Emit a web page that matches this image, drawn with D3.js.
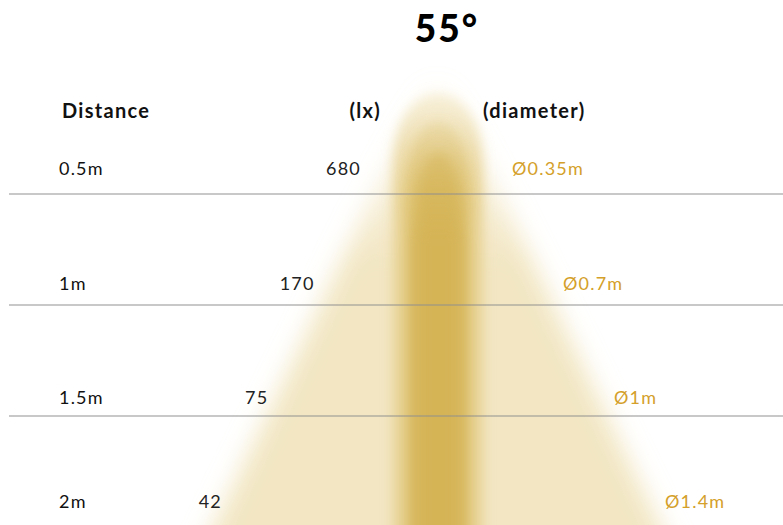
<!DOCTYPE html>
<html>
<head>
<meta charset="utf-8">
<script src="https://cdn.jsdelivr.net/npm/d3@7"></script>
<style>
  html, body { margin: 0; padding: 0; background: #fff; }
  svg { display: block; font-family: Lato, "Open Sans", sans-serif; }
</style>
</head>
<body>
<svg id="chart" width="783" height="525"></svg>
<script>
// ---- data ----
const beamAngle = 55;
const distances = ["0.5m", "1m", "1.5m", "2m"];
const distanceValues = [0.5, 1, 1.5, 2];
const lux = [680, 170, 75, 42];
const diameters = [0.35, 0.7, 1, 1.4];
const headers = ["Distance", "(lx)", "(diameter)"];

const W = 783, H = 525;
const svg = d3.select("#chart");
const cx = 437;          // beam centre
const apexY = 85;

// scales
const y = d3.scaleOrdinal().domain(distances).range([175, 290, 404, 508]);
const lineY = d3.scaleLinear().domain([0.5, 1.5]).range([194, 416]);
const luxOffset = d3.scaleLinear().domain([0.5, 2]).range([76, 215]);
const diaOffset = d3.scaleLinear().domain([0.5, 2]).range([75, 228]);
const coneHalf = d3.scaleLinear().domain([apexY, H]).range([0, 222]);

const defs = svg.append("defs");
[["blurOuter", 12], ["blurMid", 6], ["blurCore", 6]].forEach(([id, s]) => {
  defs.append("filter").attr("id", id)
    .attr("x", "-50%").attr("y", "-50%").attr("width", "200%").attr("height", "200%")
    .append("feGaussianBlur").attr("stdDeviation", s);
});
function vGrad(id, color, y0, y1, o0) {
  const g = defs.append("linearGradient").attr("id", id)
    .attr("gradientUnits", "userSpaceOnUse")
    .attr("x1", 0).attr("x2", 0).attr("y1", y0).attr("y2", y1);
  g.append("stop").attr("offset", 0).attr("stop-color", color).attr("stop-opacity", o0);
  g.append("stop").attr("offset", 1).attr("stop-color", color).attr("stop-opacity", 1);
}
vGrad("gOuter", "#f2e6c3", 110, 260, 0.15);
vGrad("gMid", "#e8d394", 85, 200, 0.25);
vGrad("gCore", "#d5b456", 110, 240, 0.2);

// ---- beam ----
const beam = svg.append("g");
const yTop = apexY + 30, yBot = H + 40;
const outerPath = d3.path();
outerPath.moveTo(cx - coneHalf(yBot), yBot);
outerPath.lineTo(cx - coneHalf(yTop) - 10, yTop);
outerPath.quadraticCurveTo(cx, apexY - 25, cx + coneHalf(yTop) + 10, yTop);
outerPath.lineTo(cx + coneHalf(yBot), yBot);
outerPath.closePath();
beam.append("path").attr("d", outerPath.toString())
  .attr("fill", "url(#gOuter)").attr("filter", "url(#blurOuter)");

function bullet(x0, x1, top, cap) {
  const p = d3.path();
  p.moveTo(x0, H + 30);
  p.lineTo(x0, top + cap);
  p.bezierCurveTo(x0, top - cap * 0.2, x1, top - cap * 0.2, x1, top + cap);
  p.lineTo(x1, H + 30);
  p.closePath();
  return p.toString();
}
beam.append("path").attr("d", bullet(393, 483, apexY, 80))
  .attr("fill", "url(#gMid)").attr("filter", "url(#blurMid)");
beam.append("path").attr("d", bullet(407, 469, apexY + 30, 70))
  .attr("fill", "url(#gCore)").attr("filter", "url(#blurCore)").attr("opacity", 0.8);
beam.append("path").attr("d", bullet(418, 459, apexY + 60, 60))
  .attr("fill", "url(#gCore)").attr("filter", "url(#blurCore)");

// ---- separator lines ----
svg.append("g").selectAll("line")
  .data(distanceValues.slice(0, -1))
  .join("line")
  .attr("x1", 9).attr("x2", W)
  .attr("y1", d => lineY(d)).attr("y2", d => lineY(d))
  .attr("stroke", "#8f8f8f").attr("stroke-opacity", 0.65).attr("stroke-width", 1.5);

// ---- title ----
svg.append("text")
  .attr("x", cx + 10).attr("y", 42)
  .attr("text-anchor", "middle")
  .attr("font-size", 37).attr("font-weight", 900).attr("fill", "#000")
  .attr("letter-spacing", 2)
  .text(beamAngle + "°");

// ---- headers ----
const hy = 118;
const hdr = (x, anchor, t) => svg.append("text").attr("x", x).attr("y", hy)
  .attr("text-anchor", anchor).attr("font-size", 20).attr("font-weight", 700)
  .attr("letter-spacing", 1.3).attr("fill", "#111").text(t);
hdr(62, "start", headers[0]);
hdr(381, "end", headers[1]);
hdr(483, "start", headers[2]);

// ---- rows ----
const rows = svg.append("g").selectAll("g")
  .data(distances.map((d, i) => ({ d, v: distanceValues[i], lux: lux[i], dia: diameters[i] })))
  .join("g");

rows.append("text")
  .attr("x", 59).attr("y", r => y(r.d))
  .attr("font-size", 18).attr("letter-spacing", 1.2).attr("fill", "#111")
  .text(r => r.d);

rows.append("text")
  .attr("x", r => cx - luxOffset(r.v)).attr("y", r => y(r.d))
  .attr("text-anchor", "end")
  .attr("font-size", 18).attr("letter-spacing", 1.2).attr("fill", "#222")
  .text(r => r.lux);

rows.append("text")
  .attr("x", r => cx + diaOffset(r.v)).attr("y", r => y(r.d))
  .attr("font-size", 18).attr("letter-spacing", 1.2).attr("fill", "#d4a02a")
  .text(r => "Ø" + r.dia + "m");
</script>
</body>
</html>
